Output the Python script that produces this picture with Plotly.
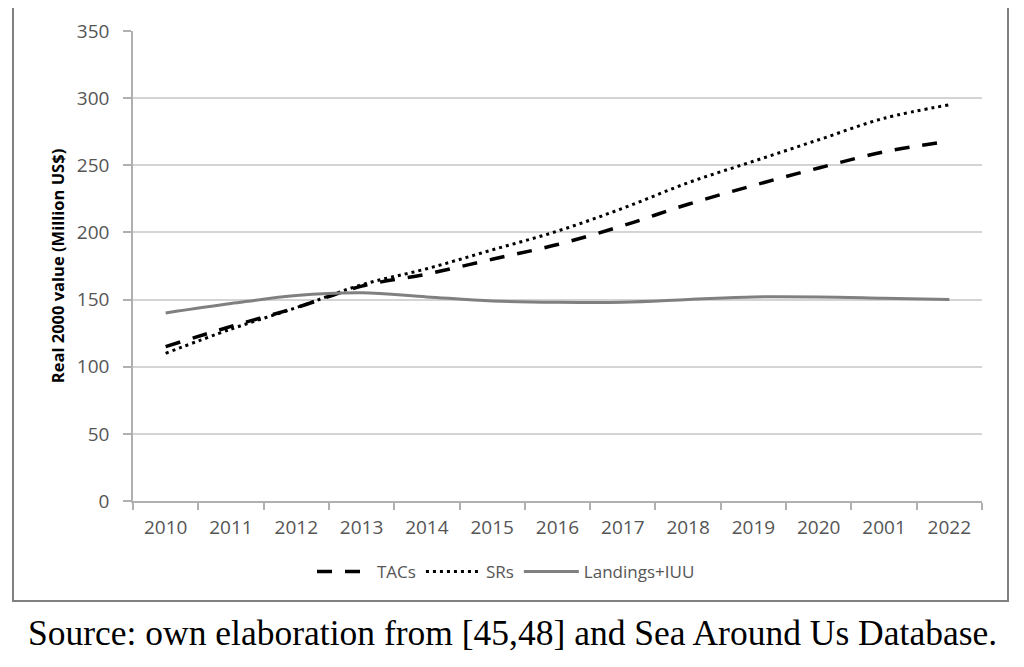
import plotly.graph_objects as go

years = ["2010", "2011", "2012", "2013", "2014", "2015", "2016",
         "2017", "2018", "2019", "2020", "2001", "2022"]
tacs = [115, 130, 144, 160, 169, 180, 191, 205, 221, 235, 248, 260, 268]
srs = [110, 128, 144, 161, 173, 187, 201, 218, 237, 253, 269, 285, 295]
landings = [140, 147, 153, 155, 152, 149, 148, 148, 150, 152, 152, 151, 150]

tick_font = dict(family="Open Sans, Liberation Sans, sans-serif", size=19, color="#555555")

fig = go.Figure()
fig.add_trace(go.Scatter(x=years, y=tacs, name="TACs", mode="lines",
                         line=dict(color="black", width=3.5, dash="15px,13px", shape="spline")))
fig.add_trace(go.Scatter(x=years, y=srs, name="SRs", mode="lines",
                         line=dict(color="black", width=3, dash="3px,4px", shape="spline")))
fig.add_trace(go.Scatter(x=years, y=landings, name="Landings+IUU", mode="lines",
                         line=dict(color="#808080", width=3, shape="spline")))

OFF = 8  # page body margin
L, R, T, B = 133 - OFF, 42 + OFF, 31 - OFF, 166 + OFF
W, H = 1024, 667
pw = W - L - R
ph = H - T - B

def px(x):
    return (x - OFF - L) / pw

def py(y):
    return (H - B - (y - OFF)) / ph

fig.update_layout(
    width=W, height=H,
    margin=dict(l=L, r=R, t=T, b=B, autoexpand=False),
    paper_bgcolor="white", plot_bgcolor="white",
    showlegend=True,
    legend=dict(orientation="h", x=px(506), y=py(572), xanchor="center", yanchor="middle",
                font=dict(family="Open Sans, Liberation Sans, sans-serif", size=17, color="#555555"),
                itemwidth=55, tracegroupgap=0),
    xaxis=dict(type="category", range=[-0.5, 12.5], showgrid=False, showline=True,
               linecolor="#b0b0b0", linewidth=1.5,
               ticks="outside", tickson="boundaries", ticklen=7, tickcolor="#b0b0b0", tickwidth=1.5,
               tickfont=tick_font, zeroline=False, fixedrange=True, ticklabelstandoff=8),
    yaxis=dict(range=[0, 350], dtick=50, showgrid=True, gridcolor="#d4d4d4", gridwidth=1.5,
               showline=True, linecolor="#b0b0b0", linewidth=1.5,
               ticks="outside", ticklen=8, tickcolor="#b0b0b0", tickwidth=1.5,
               tickfont=tick_font, zeroline=False, ticklabelstandoff=10,
               title=dict(text="<b>Real 2000 value (Million US$)</b>",
                          font=dict(family="Open Sans, Liberation Sans, sans-serif", size=16.5, color="black"),
                          standoff=8)),
    shapes=[dict(type="rect", xref="paper", yref="paper",
                 x0=px(13), x1=px(1008), y0=py(601), y1=py(7),
                 line=dict(color="#808080", width=2), fillcolor="rgba(0,0,0,0)", layer="below")],
    annotations=[dict(text="Source: own elaboration from [45,48] and Sea Around Us Database.",
                      xref="paper", yref="paper", x=px(512), y=py(633), xanchor="center", yanchor="middle",
                      showarrow=False,
                      font=dict(family="Liberation Serif, Times New Roman, serif", size=35.5, color="black"))],
)

fig.write_html("out.html")
